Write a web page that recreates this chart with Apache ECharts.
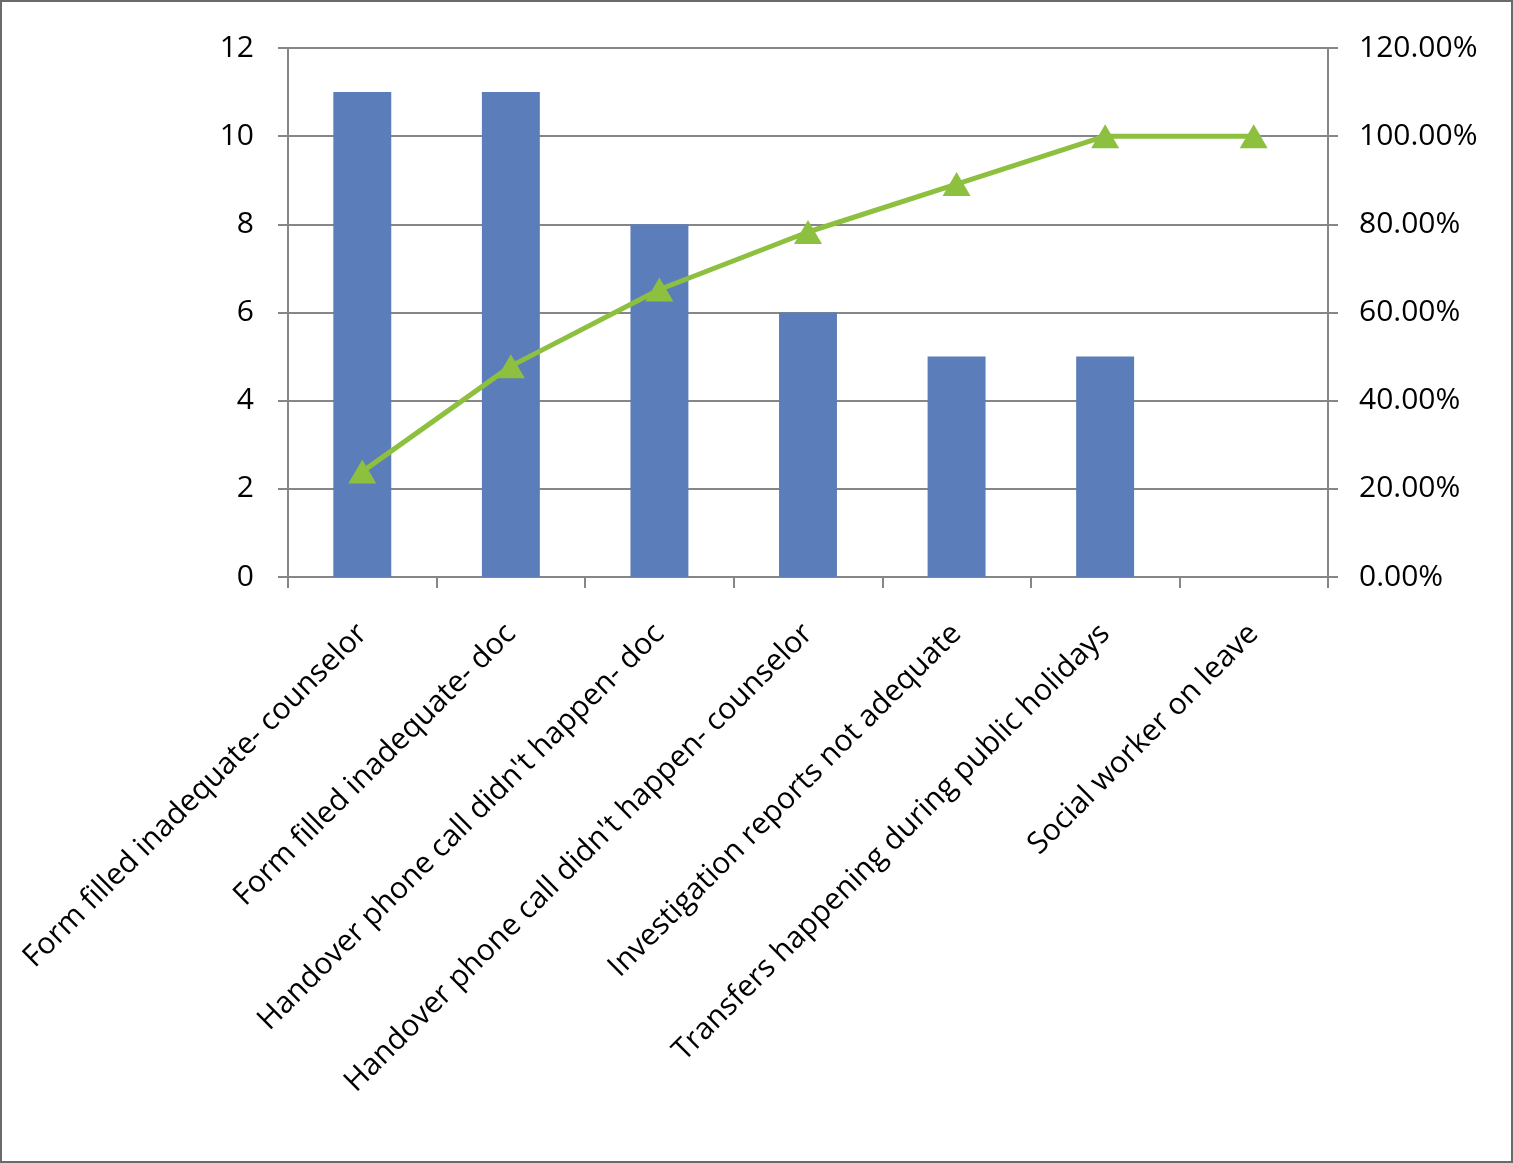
<!DOCTYPE html>
<html>
<head>
<meta charset="utf-8">
<style>
html,body{margin:0;padding:0;background:#fff;}
#chart{width:1513px;height:1163px;box-sizing:border-box;border:2px solid #6a6a6a;}
</style>
<script src="https://cdn.jsdelivr.net/npm/echarts@6/dist/echarts.min.js"></script>
</head>
<body>
<div id="chart"></div>
<script>
const categories = [
  "Form filled inadequate- counselor",
  "Form filled inadequate- doc",
  "Handover phone call didn't happen- doc",
  "Handover phone call didn't happen- counselor",
  "Investigation reports not adequate",
  "Transfers happening during public holidays",
  "Social worker on leave"
];
const counts = [11, 11, 8, 6, 5, 5, 0];
const cumulativePct = [23.91, 47.83, 65.22, 78.26, 89.13, 100, 100];
const leftTicks = {min: 0, max: 12, interval: 2};
const rightTicks = {min: 0, max: 120, interval: 20};

const axisGray = '#868686';
const font = 'Open Sans';
const chart = echarts.init(document.getElementById('chart'));
chart.setOption({
  animation: false,
  grid: {left: 286, right: 183, top: 46, bottom: 584},
  xAxis: {
    type: 'category',
    data: categories,
    axisLine: {lineStyle: {color: axisGray, width: 2}},
    axisTick: {show: true, length: 11, lineStyle: {color: axisGray, width: 2}},
    axisLabel: {rotate: 45, margin: 52, color: '#000', fontFamily: font, fontSize: 30, interval: 0}
  },
  yAxis: [
    {
      type: 'value', min: leftTicks.min, max: leftTicks.max, interval: leftTicks.interval,
      position: 'left',
      axisLine: {show: true, lineStyle: {color: axisGray, width: 2}},
      axisTick: {show: true, length: 10, lineStyle: {color: axisGray, width: 2}},
      splitLine: {show: true, lineStyle: {color: axisGray, width: 2}},
      axisLabel: {color: '#000', fontFamily: font, fontSize: 30, margin: 34}
    },
    {
      type: 'value', min: rightTicks.min, max: rightTicks.max, interval: rightTicks.interval,
      position: 'right',
      axisLine: {show: true, lineStyle: {color: axisGray, width: 2}},
      axisTick: {show: true, length: 10, lineStyle: {color: axisGray, width: 2}},
      splitLine: {show: false},
      axisLabel: {color: '#000', fontFamily: font, fontSize: 30, margin: 31,
        formatter: v => v.toFixed(2) + '%'}
    }
  ],
  series: [
    {
      type: 'bar', data: counts, yAxisIndex: 0, barWidth: '39%',
      itemStyle: {color: '#5B7EBB'}
    },
    {
      type: 'line', data: cumulativePct, yAxisIndex: 1,
      lineStyle: {color: '#8DC03F', width: 5},
      itemStyle: {color: '#8DC03F'},
      symbol: 'triangle', symbolSize: [28, 24], showAllSymbol: true
    }
  ]
});
</script>
</body>
</html>
